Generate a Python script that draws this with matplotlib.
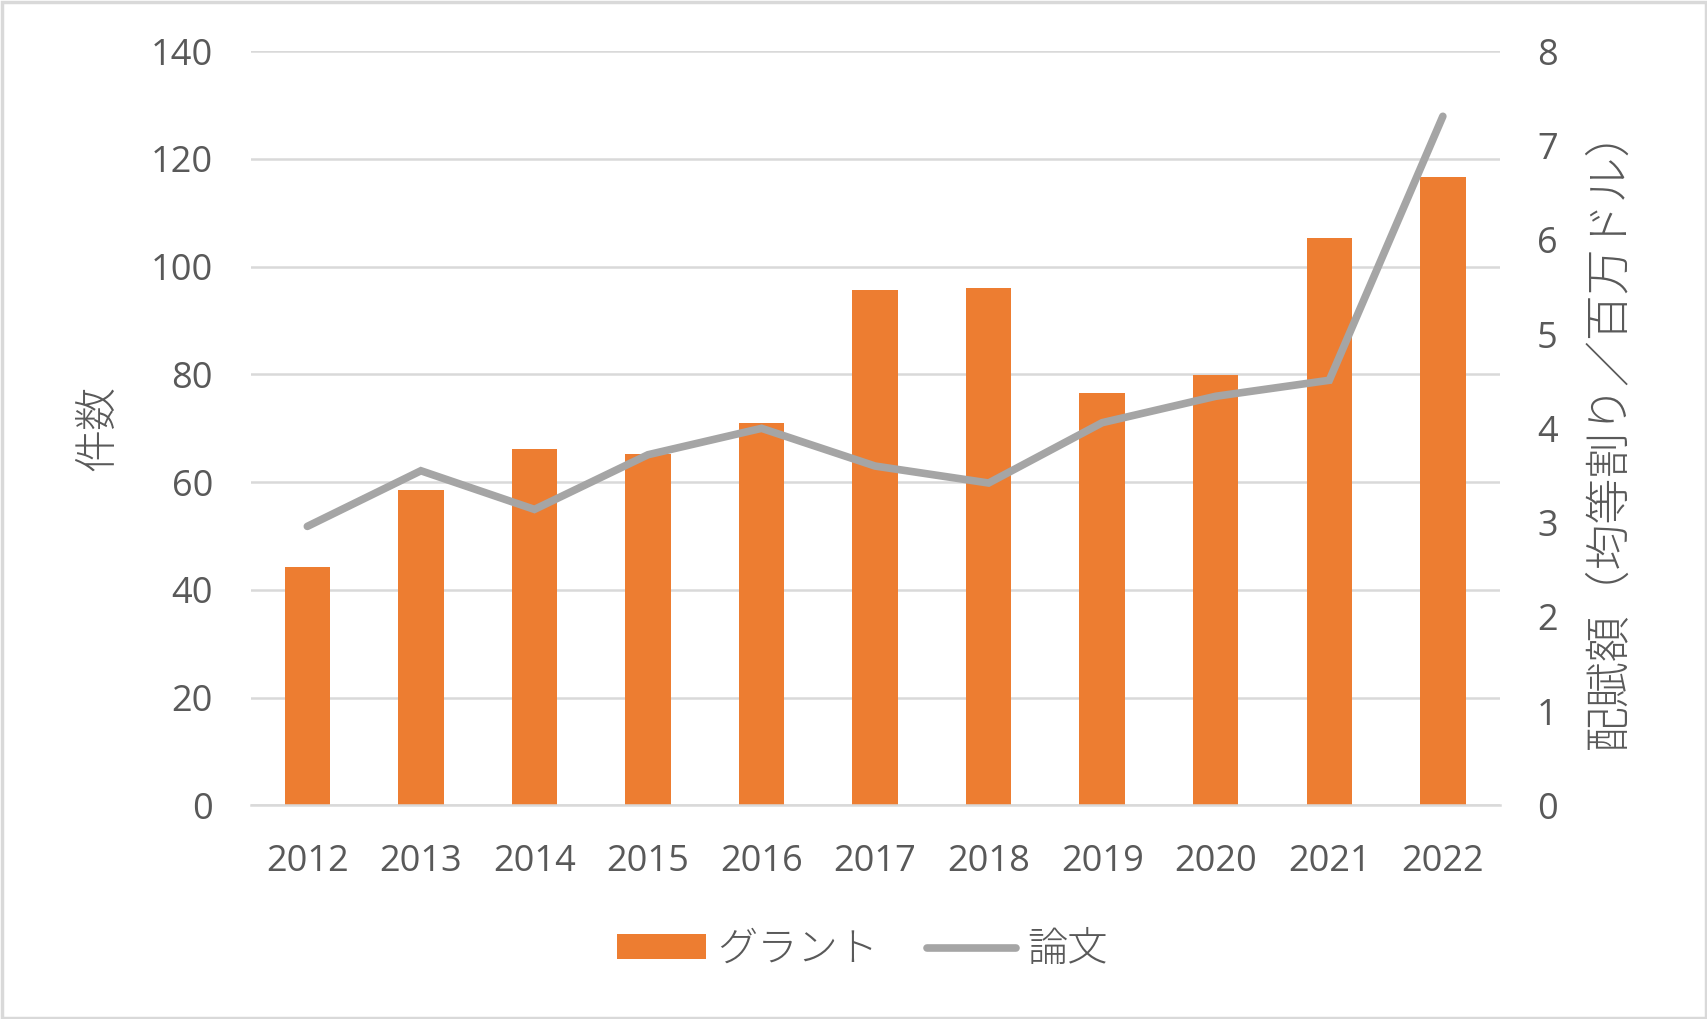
import matplotlib
matplotlib.use("Agg")
import matplotlib.pyplot as plt
from matplotlib.patches import Rectangle

years = ["2012", "2013", "2014", "2015", "2016", "2017", "2018", "2019", "2020", "2021", "2022"]
grants = [44.3, 58.5, 66.2, 65.3, 71.0, 95.7, 96.1, 76.5, 79.9, 105.4, 116.7]
papers = [2.96, 3.55, 3.14, 3.72, 4.00, 3.60, 3.42, 4.06, 4.34, 4.51, 7.31]
left_ticks = [0, 20, 40, 60, 80, 100, 120, 140]
right_ticks = [0, 1, 2, 3, 4, 5, 6, 7, 8]

plt.rcParams['font.family'] = ['Open Sans', 'Noto Sans CJK JP', 'DejaVu Sans']
TXT = '#595959'
ORANGE = '#ED7D31'
GRAY = '#A5A5A5'
GRID = '#D9D9D9'
CJK = ['Noto Sans CJK JP', 'DejaVu Sans']

fig = plt.figure(figsize=(17.08, 10.19), dpi=100)
fig.patches.append(Rectangle((0.001, 0.001), 0.998, 0.997, transform=fig.transFigure,
                             fill=False, edgecolor=GRID, linewidth=2.5))
ax = fig.add_axes([0.1467, 0.2096, 0.7313, 0.7401])
ax2 = ax.twinx()

x = list(range(len(years)))
ax.bar(x, grants, width=0.4, color=ORANGE, zorder=2, label='グラント')
ax2.plot(x, papers, color=GRAY, linewidth=5.5, solid_capstyle='round',
         solid_joinstyle='miter', zorder=3, label='論文')

ax.set_xlim(-0.5, len(years) - 0.5)
ax.set_ylim(0, 140)
ax2.set_ylim(0, 8)
ax.set_yticks(left_ticks)
ax2.set_yticks(right_ticks)
ax.set_xticks(x)
ax.set_xticklabels(years)

ax.grid(axis='y', color=GRID, linewidth=1.8, zorder=0)
ax.set_axisbelow(True)
for a in (ax, ax2):
    for s in a.spines.values():
        s.set_visible(False)
ax.spines['bottom'].set_visible(True)
ax.spines['bottom'].set_color(GRID)
ax.spines['bottom'].set_linewidth(1.8)

ax.tick_params(axis='y', length=0, pad=27, labelsize=26, labelcolor=TXT)
ax.tick_params(axis='x', length=0, pad=28, labelsize=26, labelcolor=TXT)
ax2.tick_params(axis='y', length=0, pad=27, labelsize=26, labelcolor=TXT)

ax.set_ylabel('件数', fontsize=31, color=TXT, labelpad=22, family=CJK, fontweight='light')
ax2.set_ylabel('配賦額（均等割り／百万ドル）', fontsize=33, color=TXT, labelpad=20,
               family=CJK, fontweight='light')

h1, l1 = ax.get_legend_handles_labels()
h2, l2 = ax2.get_legend_handles_labels()
leg = fig.legend(h1 + h2, l1 + l2, loc='center', bbox_to_anchor=(0.505, 0.068),
                 ncol=2, frameon=False, handlelength=2.2, handleheight=0.55,
                 columnspacing=1.2, handletextpad=0.3,
                 prop={'family': CJK, 'size': 29, 'weight': 'light'})
for t in leg.get_texts():
    t.set_color(TXT)

fig.savefig('out.png', dpi=100)
